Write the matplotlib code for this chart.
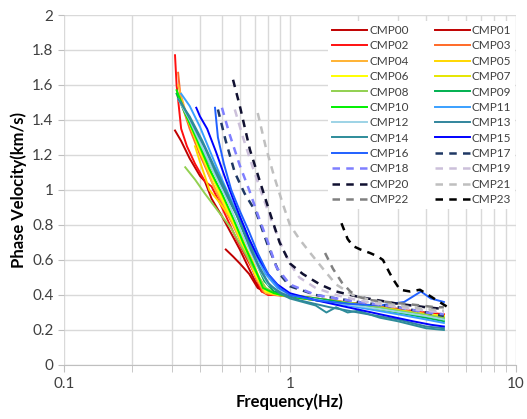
import matplotlib
matplotlib.use("Agg")
import matplotlib.pyplot as plt
from matplotlib.ticker import FixedLocator, NullFormatter

# --- data (frequency in Hz, phase velocity in km/s) ---
names = ["CMP%02d" % i for i in range(24)]

f00 = [0.31, 0.33, 0.36, 0.40, 0.42, 0.45, 0.50, 0.60, 0.70, 0.75, 0.90, 1.2, 2.0, 3.0, 4.0, 4.8]
v00 = [1.34, 1.28, 1.18, 1.08, 1.05, 0.95, 0.85, 0.66, 0.48, 0.42, 0.40, 0.38, 0.35, 0.32, 0.29, 0.28]
f01 = [0.52, 0.56, 0.60, 0.66, 0.72, 0.80, 1.0, 1.5, 2.0, 3.0, 4.0, 4.8]
v01 = [0.66, 0.62, 0.58, 0.52, 0.44, 0.41, 0.39, 0.36, 0.34, 0.31, 0.28, 0.27]
f02 = [0.31, 0.315, 0.33, 0.35, 0.38, 0.42, 0.45, 0.50, 0.58, 0.68, 0.75, 0.80, 1.0, 1.5, 2.0, 3.0, 4.0, 4.8]
v02 = [1.77, 1.60, 1.35, 1.25, 1.15, 1.05, 1.02, 0.90, 0.72, 0.55, 0.42, 0.40, 0.40, 0.37, 0.35, 0.32, 0.30, 0.29]
f03 = [0.32, 0.33, 0.36, 0.40, 0.45, 0.50, 0.56, 0.62, 0.70, 0.76, 0.85, 1.0, 1.5, 2.0, 3.0, 4.0, 4.8]
v03 = [1.67, 1.50, 1.35, 1.20, 1.05, 0.92, 0.80, 0.68, 0.52, 0.42, 0.40, 0.39, 0.37, 0.35, 0.32, 0.29, 0.28]
f04 = [0.32, 0.35, 0.38, 0.42, 0.46, 0.52, 0.58, 0.65, 0.72, 0.78, 0.90, 1.2, 1.8, 2.5, 3.5, 4.8]
v04 = [1.60, 1.42, 1.30, 1.15, 1.02, 0.90, 0.76, 0.62, 0.48, 0.41, 0.40, 0.38, 0.35, 0.32, 0.30, 0.27]
f05 = [0.38, 0.40, 0.42, 0.44, 0.48, 0.54, 0.60, 0.68, 0.75, 0.82, 1.0, 1.5, 2.0, 3.0, 4.0, 4.8]
v05 = [1.25, 1.16, 1.08, 1.00, 0.94, 0.85, 0.74, 0.60, 0.46, 0.41, 0.39, 0.36, 0.34, 0.31, 0.28, 0.27]
f06 = [0.33, 0.36, 0.40, 0.45, 0.50, 0.56, 0.63, 0.70, 0.78, 0.90, 1.2, 2.0, 3.0, 4.8]
v06 = [1.50, 1.38, 1.22, 1.08, 0.95, 0.82, 0.66, 0.52, 0.42, 0.40, 0.38, 0.34, 0.31, 0.28]
f07 = [0.34, 0.38, 0.43, 0.48, 0.54, 0.60, 0.66, 0.73, 0.80, 1.0, 1.5, 2.5, 3.5, 4.8]
v07 = [1.45, 1.30, 1.15, 1.02, 0.88, 0.76, 0.62, 0.50, 0.42, 0.40, 0.37, 0.33, 0.30, 0.27]
f08 = [0.344, 0.38, 0.42, 0.474, 0.55, 0.62, 0.70, 0.78, 0.90, 1.2, 2.0, 3.0, 4.8]
v08 = [1.13, 1.06, 0.98, 0.89, 0.78, 0.66, 0.54, 0.44, 0.40, 0.38, 0.35, 0.31, 0.27]
f09 = [0.315, 0.34, 0.38, 0.42, 0.47, 0.52, 0.58, 0.64, 0.70, 0.77, 0.85, 1.0, 1.5, 2.0, 3.0, 4.0, 4.8]
v09 = [1.55, 1.45, 1.32, 1.20, 1.08, 0.98, 0.86, 0.72, 0.60, 0.48, 0.42, 0.40, 0.37, 0.34, 0.30, 0.27, 0.25]
f10 = [0.315, 0.35, 0.39, 0.44, 0.50, 0.56, 0.62, 0.70, 0.76, 0.85, 1.0, 1.5, 2.5, 4.0, 4.8]
v10 = [1.57, 1.42, 1.28, 1.12, 0.98, 0.84, 0.70, 0.55, 0.44, 0.41, 0.39, 0.36, 0.32, 0.28, 0.26]
f11 = [0.33, 0.36, 0.40, 0.45, 0.50, 0.56, 0.63, 0.70, 0.78, 0.88, 1.0, 1.5, 2.0, 3.0, 4.0, 4.8]
v11 = [1.55, 1.48, 1.36, 1.20, 1.06, 0.92, 0.78, 0.64, 0.52, 0.44, 0.40, 0.36, 0.33, 0.29, 0.26, 0.24]
f12 = [0.32, 0.36, 0.40, 0.46, 0.52, 0.58, 0.65, 0.72, 0.80, 0.90, 1.0, 1.5, 2.5, 4.0, 4.8]
v12 = [1.52, 1.40, 1.27, 1.10, 0.96, 0.82, 0.68, 0.56, 0.46, 0.42, 0.40, 0.36, 0.32, 0.28, 0.26]
f13 = [0.33, 0.37, 0.42, 0.47, 0.53, 0.60, 0.67, 0.74, 0.82, 0.92, 1.1, 1.5, 2.0, 3.0, 4.0, 4.8]
v13 = [1.50, 1.38, 1.24, 1.10, 0.96, 0.82, 0.66, 0.54, 0.45, 0.41, 0.37, 0.33, 0.30, 0.26, 0.22, 0.21]
f14 = [0.32, 0.36, 0.41, 0.46, 0.52, 0.58, 0.65, 0.72, 0.80, 0.90, 1.0, 1.3, 1.45, 1.6, 1.8, 2.0, 2.5, 3.0, 4.0, 4.8]
v14 = [1.52, 1.42, 1.28, 1.14, 1.00, 0.86, 0.72, 0.58, 0.47, 0.41, 0.38, 0.34, 0.30, 0.33, 0.30, 0.31, 0.27, 0.25, 0.21, 0.20]
f15 = [0.385, 0.40, 0.43, 0.47, 0.52, 0.56, 0.60, 0.66, 0.72, 0.80, 0.88, 1.0, 1.3, 1.8, 2.5, 3.5, 4.2, 4.8]
v15 = [1.47, 1.42, 1.35, 1.22, 1.06, 0.95, 0.85, 0.72, 0.62, 0.52, 0.46, 0.41, 0.37, 0.33, 0.29, 0.25, 0.23, 0.22]
f16 = [0.466, 0.48, 0.51, 0.55, 0.60, 0.66, 0.72, 0.80, 0.90, 1.0, 1.3, 1.8, 2.5, 3.2, 3.8, 4.2, 4.8]
v16 = [1.47, 1.30, 1.15, 1.00, 0.88, 0.76, 0.64, 0.52, 0.44, 0.40, 0.37, 0.35, 0.34, 0.36, 0.42, 0.38, 0.36]
f17 = [0.48, 0.52, 0.57, 0.63, 0.71, 0.80, 0.90, 1.0, 1.3, 2.0, 3.0, 4.0, 4.8]
v17 = [1.46, 1.28, 1.10, 0.98, 0.87, 0.68, 0.52, 0.45, 0.40, 0.36, 0.33, 0.30, 0.28]
f18 = [0.50, 0.54, 0.60, 0.66, 0.72, 0.80, 0.87, 1.0, 1.3, 2.0, 3.0, 4.0, 4.8]
v18 = [1.47, 1.32, 1.14, 1.00, 0.86, 0.70, 0.56, 0.46, 0.40, 0.36, 0.33, 0.30, 0.29]
f19 = [0.57, 0.62, 0.68, 0.75, 0.83, 0.92, 1.0, 1.1, 1.3, 1.6, 2.0, 3.0, 4.0, 4.8]
v19 = [1.46, 1.30, 1.14, 0.98, 0.82, 0.68, 0.58, 0.50, 0.44, 0.40, 0.37, 0.33, 0.31, 0.30]
f20 = [0.56, 0.60, 0.665, 0.74, 0.815, 0.90, 1.0, 1.14, 1.36, 1.6, 2.0, 3.0, 4.0, 4.8]
v20 = [1.63, 1.48, 1.23, 1.04, 0.87, 0.70, 0.58, 0.52, 0.46, 0.42, 0.39, 0.35, 0.33, 0.32]
f21 = [0.72, 0.78, 0.85, 0.93, 1.0, 1.1, 1.23, 1.4, 1.6, 1.9, 2.3, 3.0, 4.0, 4.8]
v21 = [1.44, 1.25, 1.08, 0.92, 0.80, 0.72, 0.64, 0.55, 0.46, 0.40, 0.37, 0.34, 0.32, 0.31]
f22 = [1.43, 1.55, 1.7, 1.85, 2.0, 2.3, 2.7, 3.2, 3.8, 4.4, 4.8]
v22 = [0.64, 0.55, 0.47, 0.42, 0.39, 0.37, 0.36, 0.35, 0.34, 0.33, 0.33]
f23 = [1.69, 1.8, 1.9, 2.05, 2.26, 2.45, 2.58, 2.75, 2.86, 3.07, 3.4, 3.76, 4.1, 4.46, 5.0]
v23 = [0.81, 0.72, 0.68, 0.66, 0.64, 0.62, 0.60, 0.53, 0.49, 0.43, 0.42, 0.43, 0.40, 0.37, 0.33]

freqs = [f00, f01, f02, f03, f04, f05, f06, f07, f08, f09, f10, f11,
         f12, f13, f14, f15, f16, f17, f18, f19, f20, f21, f22, f23]
vels = [v00, v01, v02, v03, v04, v05, v06, v07, v08, v09, v10, v11,
        v12, v13, v14, v15, v16, v17, v18, v19, v20, v21, v22, v23]

colors = ["#C00000", "#C00000", "#FF1010", "#FF6A28", "#FFB233", "#FFD700",
          "#FFFF00", "#E6E600", "#92D050", "#00B050", "#00F000", "#3AA0FF",
          "#9DD3E6", "#31859C", "#2E8C9A", "#0000FF", "#2060FF", "#1F3864",
          "#7F7FFF", "#CCC0DA", "#101030", "#BFBFBF", "#808080", "#000000"]

plt.rcParams["font.family"] = ["Lato", "DejaVu Sans"]

fig = plt.figure(figsize=(5.27, 4.19), dpi=100)
ax = fig.add_axes([0.1214, 0.1289, 0.8576, 0.8353])

lines = []
for i, name in enumerate(names):
    if i >= 17:
        ln, = ax.plot(freqs[i], vels[i], color=colors[i], lw=1.8, dashes=(3, 2.5),
                      label=name, zorder=3)
    else:
        ln, = ax.plot(freqs[i], vels[i], color=colors[i], lw=1.4, label=name, zorder=2)
    lines.append(ln)

ax.set_xscale("log")
ax.set_xlim(0.1, 10)
ax.set_ylim(0, 2)
ax.set_yticks([0, 0.2, 0.4, 0.6, 0.8, 1.0, 1.2, 1.4, 1.6, 1.8, 2.0])
ax.set_yticklabels(["0", "0.2", "0.4", "0.6", "0.8", "1", "1.2", "1.4", "1.6", "1.8", "2"])
ax.set_xticks([0.1, 1, 10])
ax.set_xticklabels(["0.1", "1", "10"])
minor = [m * d for d in (0.1, 1) for m in range(2, 10)]
ax.xaxis.set_minor_locator(FixedLocator(minor))
ax.xaxis.set_minor_formatter(NullFormatter())

ax.grid(True, which="both", axis="x", color="#D9D9D9", lw=1.0, zorder=0)
ax.grid(True, which="major", axis="y", color="#D9D9D9", lw=1.0, zorder=0)
ax.set_axisbelow(True)
for s in ["top", "right", "left"]:
    ax.spines[s].set_visible(False)
ax.spines["bottom"].set_color("#BFBFBF")
ax.tick_params(axis="both", which="both", colors="#BFBFBF", labelcolor="#404040",
               labelsize=11, length=4)
ax.tick_params(axis="x", which="both", length=5, direction="out")

ax.set_xlabel("Frequency(Hz)", fontsize=12, fontweight="bold", labelpad=2)
ax.set_ylabel("Phase Velocity(km/s)", fontsize=12, fontweight="bold", labelpad=4)

# legend reads row by row: even entries in the left column, odd in the right
order = list(range(0, 24, 2)) + list(range(1, 24, 2))
leg = ax.legend([lines[k] for k in order], [names[k] for k in order],
                ncol=2, loc="upper right", bbox_to_anchor=(1.012, 1.0),
                fontsize=8.5, frameon=True, framealpha=1.0, edgecolor="none",
                handlelength=3.0, handletextpad=0.15, columnspacing=2.2,
                labelspacing=0.37, borderpad=0.35)
leg.set_zorder(5)
for t in leg.get_texts():
    t.set_color("#404040")

fig.savefig("out.png", dpi=100)
